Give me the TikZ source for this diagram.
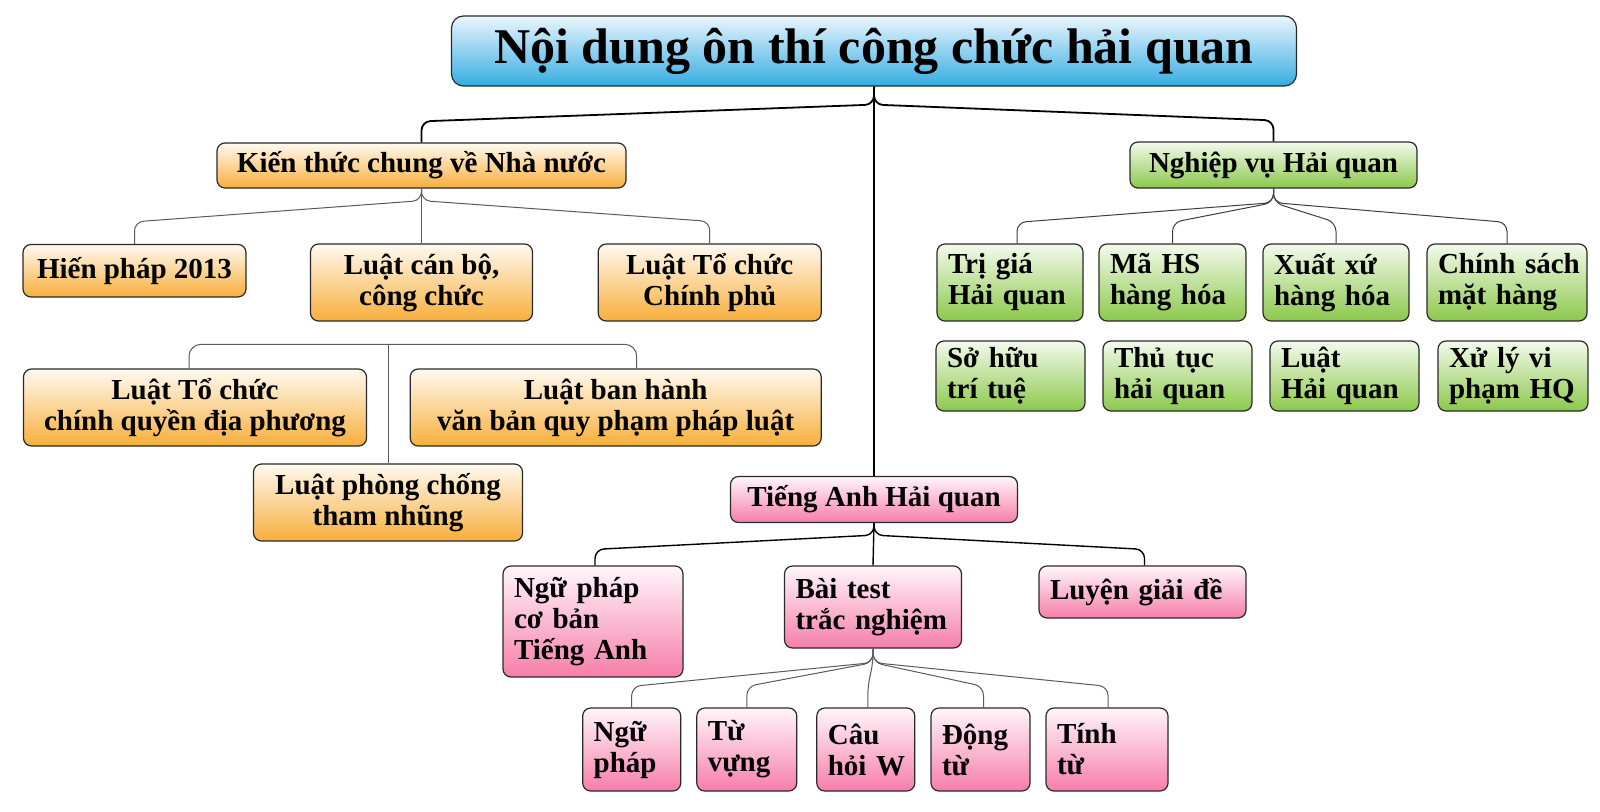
\documentclass[tikz,border=0pt]{standalone}
\usepackage{fontspec}
\setmainfont{Liberation Serif}
\definecolor{bluetop}{HTML}{EAF6FD}
\definecolor{bluebot}{HTML}{35ACE2}
\definecolor{orgtop}{HTML}{FFFAF0}
\definecolor{orgbot}{HTML}{F8AE3C}
\definecolor{grntop}{HTML}{F3FAEC}
\definecolor{grnbot}{HTML}{8CC84B}
\definecolor{pnktop}{HTML}{FFF6FA}
\definecolor{pnkbot}{HTML}{F67EAA}
\definecolor{boxline}{HTML}{2A2A2A}
\definecolor{graylink}{HTML}{5A5A5A}
\begin{document}
\begin{tikzpicture}[x=1pt,y=-1pt,
  box/.style={draw=boxline, line width=1.2pt, rounded corners=8pt,
    font=\bfseries\fontsize{29}{31}\selectfont, inner ysep=0pt},
  cbox/.style={box, inner xsep=0pt, align=center},
  lbox/.style={box, inner xsep=11pt, align=left},
  titlebox/.style={box, rounded corners=12pt, top color=bluetop, bottom color=bluebot,
    font=\bfseries\fontsize{50}{54}\selectfont, inner xsep=0pt, align=center},
  obox/.style={cbox, top color=orgtop, bottom color=orgbot},
  gbox/.style={cbox, top color=grntop, bottom color=grnbot},
  glbox/.style={lbox, top color=grntop, bottom color=grnbot},
  pbox/.style={cbox, top color=pnktop, bottom color=pnkbot},
  plbox/.style={lbox, top color=pnktop, bottom color=pnkbot},
  mainlink/.style={draw=black, line width=1.8pt, rounded corners=9pt},
  blink/.style={draw=black, line width=1.4pt, rounded corners=9pt},
  glink/.style={draw=graylink, line width=1pt, rounded corners=9pt},
  dlink/.style={draw=boxline!90, line width=1pt, rounded corners=9pt}
]
\useasboundingbox (0,0) rectangle (1600,811);
\fill[white] (0,0) rectangle (1600,811);

% root
\node[titlebox, minimum width=845pt, minimum height=70pt] (title) at (874,51) {Nội dung ôn thí công chức hải quan};

% level 1
\node[obox, minimum width=409pt, minimum height=45pt] (kt) at (421.5,165.5) {Kiến thức chung về Nhà nước};
\node[gbox, minimum width=287pt, minimum height=46pt] (nv) at (1273.5,165) {Nghiệp vụ Hải quan};
\node[pbox, minimum width=287pt, minimum height=46pt] (ta) at (874,499.5) {Tiếng Anh Hải quan};

% Kiến thức children
\node[obox, minimum width=223pt, minimum height=52.5pt] (hp) at (134.5,270.7) {Hiến pháp 2013};
\node[obox, minimum width=222pt, minimum height=77pt] (cb) at (421.5,282.5) {Luật cán bộ,\\công chức};
\node[obox, minimum width=223pt, minimum height=77pt] (cp) at (709.7,282.5) {Luật Tổ chức\\Chính phủ};

% second orange group
\node[obox, minimum width=343pt, minimum height=77pt] (tcq) at (195,407.5) {Luật Tổ chức\\chính quyền địa phương};
\node[obox, minimum width=411pt, minimum height=77pt] (bh) at (615.7,407.5) {Luật ban hành\\văn bản quy phạm pháp luật};
\node[obox, minimum width=269pt, minimum height=77pt] (pc) at (388,502.5) {Luật phòng chống\\tham nhũng};
\coordinate (hub2) at (388,344.3);

% Nghiệp vụ children
\node[glbox, text width=124pt, minimum height=77pt] (tg) at (1010,282.5) {Trị~giá\\Hải~quan};
\node[glbox, text width=125pt, minimum height=77pt] (hs) at (1172.5,282.5) {Mã~HS\\hàng~hóa};
\node[glbox, text width=124pt, minimum height=77pt] (xx) at (1336,282.5) {Xuất~xứ\\hàng~hóa};
\node[glbox, text width=138pt, minimum height=77pt] (cs) at (1507,282.5) {Chính~sách\\mặt~hàng};
\node[glbox, text width=127pt, minimum height=70pt] (sh) at (1010.5,376) {Sở~hữu\\trí~tuệ};
\node[glbox, text width=127pt, minimum height=70pt] (tt) at (1177.5,376) {Thủ~tục\\hải~quan};
\node[glbox, text width=127pt, minimum height=70pt] (lh) at (1344.5,376) {Luật\\Hải~quan};
\node[glbox, text width=128pt, minimum height=70pt] (xl) at (1513,376) {Xử~lý~vi\\phạm~HQ};

% Tiếng Anh children
\node[plbox, text width=158pt, minimum height=111pt] (ng) at (593,621.5) {Ngữ~pháp\\cơ~bản\\Tiếng~Anh};
\node[plbox, text width=155pt, minimum height=82pt] (bt) at (873,607) {Bài~test\\trắc~nghiệm};
\node[plbox, text width=185pt, minimum height=52pt] (lg) at (1142.5,592) {Luyện~giải~đề};

% Bài test children
\node[plbox, text width=76pt, minimum height=83pt] (b1) at (631.7,749.5) {Ngữ\\pháp};
\node[plbox, text width=78pt, minimum height=83pt] (b2) at (746.8,749.5) {Từ\\vựng};
\node[plbox, text width=76pt, minimum height=83pt] (b3) at (865.8,749.5) {Câu\\hỏi~W};
\node[plbox, text width=77pt, minimum height=83pt] (b4) at (980.5,749.5) {Động\\từ};
\node[plbox, text width=100pt, minimum height=83pt] (b5) at (1107,749.5) {Tính\\từ};

% root links
\draw[mainlink] (title.south) -- ([yshift=-18pt]title.south) -- ([yshift=21pt]kt.north) -- (kt.north);
\draw[mainlink] (title.south) -- ([yshift=-18pt]title.south) -- ([yshift=21pt]nv.north) -- (nv.north);
\draw[mainlink] (title.south) -- (ta.north);

% Kiến thức links
\draw[glink] (kt.south) -- ([yshift=-12pt]kt.south) -- ([yshift=22pt]hp.north) -- (hp.north);
\draw[glink] (kt.south) -- (cb.north);
\draw[glink] (kt.south) -- ([yshift=-12pt]kt.south) -- ([yshift=22pt]cp.north) -- (cp.north);

% second group links
\draw[glink, rounded corners=12pt] ([xshift=-6pt]tcq.north) |- (hub2) -| ([xshift=21pt]bh.north);
\draw[glink] (hub2) -- (pc.north);

% Nghiệp vụ links
\draw[dlink] (nv.south) -- ([yshift=-14pt]nv.south) -- ([xshift=7pt,yshift=21pt]tg.north) -- ([xshift=7pt]tg.north);
\draw[dlink] (nv.south) -- ([yshift=-14pt]nv.south) -- ([yshift=21pt]hs.north) -- (hs.north);
\draw[dlink] (nv.south) -- ([yshift=-14pt]nv.south) -- ([yshift=21pt]xx.north) -- (xx.north);
\draw[dlink] (nv.south) -- ([yshift=-14pt]nv.south) -- ([yshift=21pt]cs.north) -- (cs.north);

% Tiếng Anh links
\draw[blink] (ta.south) -- ([yshift=-12pt]ta.south) -- ([xshift=2pt,yshift=16pt]ng.north) -- ([xshift=2pt]ng.north);
\draw[blink] (ta.south) -- (bt.north);
\draw[blink] (ta.south) -- ([yshift=-12pt]ta.south) -- ([xshift=2pt,yshift=16pt]lg.north) -- ([xshift=2pt]lg.north);

% Bài test links
\draw[glink] (bt.south) -- ([yshift=-14pt]bt.south) -- ([yshift=21pt]b1.north) -- (b1.north);
\draw[glink] (bt.south) -- ([yshift=-14pt]bt.south) -- ([yshift=21pt]b2.north) -- (b2.north);
\draw[glink] (bt.south) -- ([yshift=-14pt]bt.south) -- ([xshift=2pt,yshift=21pt]b3.north) -- ([xshift=2pt]b3.north);
\draw[glink] (bt.south) -- ([yshift=-14pt]bt.south) -- ([xshift=3pt,yshift=21pt]b4.north) -- ([xshift=3pt]b4.north);
\draw[glink] (bt.south) -- ([yshift=-14pt]bt.south) -- ([xshift=1pt,yshift=21pt]b5.north) -- ([xshift=1pt]b5.north);
\end{tikzpicture}
\end{document}
